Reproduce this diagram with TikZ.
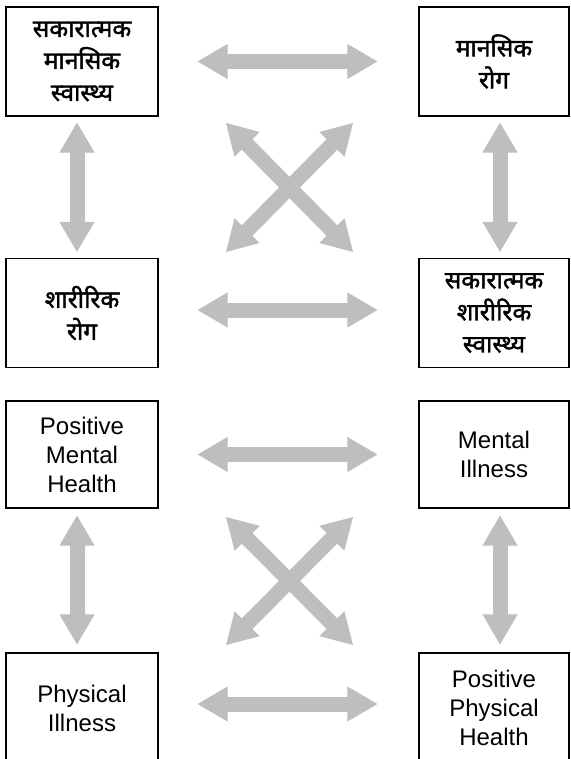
\documentclass[tikz,border=0pt]{standalone}
\usepackage{fontspec}
\setmainfont{Liberation Sans}
\newfontfamily\devfont[Script=Devanagari, FakeBold=1.6]{Noto Sans}
\usetikzlibrary{arrows.meta}
\definecolor{arrowgray}{RGB}{188,190,192}

\begin{document}
\begin{tikzpicture}[x=1pt, y=-1pt,
		box/.style={draw, line width=1.3pt, minimum width=152pt, minimum height=109pt, align=center, inner sep=0pt},
		hin/.style={box, font=\devfont\fontsize{24.5}{32}\selectfont},
		eng/.style={box, font=\fontsize{24}{29}\selectfont},
		link/.style={color=arrowgray, line width=15pt,
			{Triangle[width=35pt,length=30pt,line width=1pt]}-{Triangle[width=35pt,length=30pt,line width=1pt]}}]
	\useasboundingbox (0,0) rectangle (570,759);

	% Hindi half
	\node [hin] (hTL) at (82,61.5) {सकारात्मक\\मानसिक\\स्वास्थ्य};
	\node [hin, minimum width=150pt] (hTR) at (494,61.5) {मानसिक\\रोग};
	\node [hin] (hBL) at (82,313) {शारीरिक\\रोग};
	\node [hin, minimum width=150pt] (hBR) at (494,313) {सकारात्मक\\शारीरिक\\स्वास्थ्य};

	\coordinate (hX1) at (226,123);
	\coordinate (hX2) at (353,252);
	\coordinate (hX3) at (226,252);
	\coordinate (hX4) at (353,123);

	\path (hTL) edge [link, shorten <=39pt, shorten >=41pt] (hTR);
	\path ([yshift=3pt]hBL.east) edge [link, shorten <=39pt, shorten >=41pt] ([yshift=3pt]hBR.west);
	\path ([xshift=-5pt]hTL.south) edge [link, shorten <=6pt, shorten >=6pt] ([xshift=-5pt]hBL.north);
	\path ([xshift=6pt]hTR.south) edge [link, shorten <=6pt, shorten >=6pt] ([xshift=6pt]hBR.north);
	\path (hX1) edge [link] (hX2);
	\path (hX3) edge [link] (hX4);

	% English half
	\node [eng, minimum height=107pt] (eTL) at (82,454.5) {Positive\\Mental\\Health};
	\node [eng, minimum height=107pt, minimum width=150pt] (eTR) at (494,454.5) {Mental\\Illness};
	\node [eng, minimum height=110pt] (eBL) at (82,708) {Physical\\Illness};
	\node [eng, minimum height=110pt, minimum width=150pt] (eBR) at (494,708) {Positive\\Physical\\Health};

	\coordinate (eX1) at (226,517);
	\coordinate (eX2) at (353,645);
	\coordinate (eX3) at (226,645);
	\coordinate (eX4) at (353,517);

	\path (eTL) edge [link, shorten <=39pt, shorten >=41pt] (eTR);
	\path ([yshift=4pt]eBL.east) edge [link, shorten <=39pt, shorten >=41pt] ([yshift=4pt]eBR.west);
	\path ([xshift=-5pt]eTL.south) edge [link, shorten <=7pt, shorten >=8pt] ([xshift=-5pt]eBL.north);
	\path ([xshift=6pt]eTR.south) edge [link, shorten <=7pt, shorten >=8pt] ([xshift=6pt]eBR.north);
	\path (eX1) edge [link] (eX2);
	\path (eX3) edge [link] (eX4);
\end{tikzpicture}
\end{document}
